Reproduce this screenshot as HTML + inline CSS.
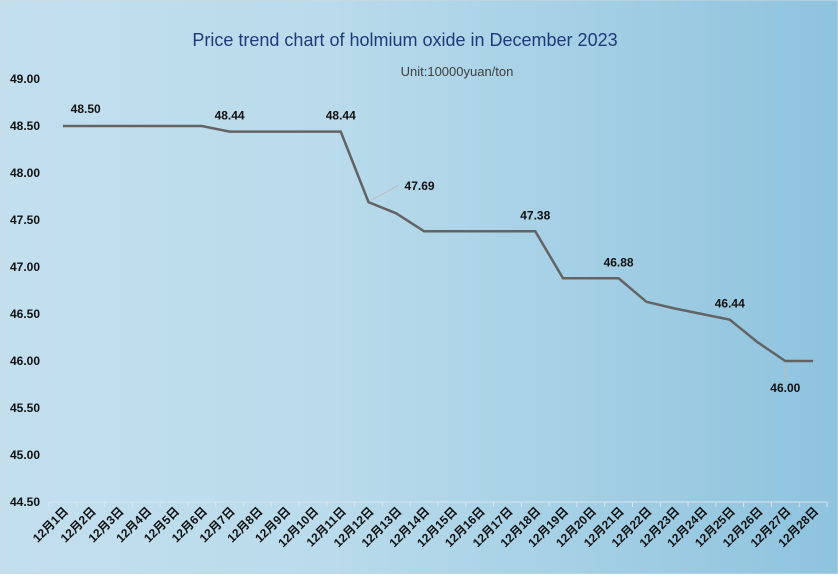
<!DOCTYPE html>
<html><head><meta charset="utf-8"><style>
html,body{margin:0;padding:0}
body{width:838px;height:574px;overflow:hidden;font-family:"Liberation Sans","Noto Sans CJK SC",sans-serif}
</style></head><body>
<svg id="chart" width="838" height="574" xmlns="http://www.w3.org/2000/svg">
<defs><linearGradient id="bg" x1="0" y1="0" x2="1" y2="0">
<stop offset="0" stop-color="#c3dfee"/><stop offset="0.4" stop-color="#b9dbeb"/><stop offset="1" stop-color="#8ec3de"/></linearGradient></defs>
<rect x="0" y="0" width="838" height="574" fill="url(#bg)" stroke="#d0d8e0"/>
<text x="405" y="46" text-anchor="middle" font-size="18" fill="#1f3a7a">Price trend chart of holmium oxide in December 2023</text>
<text x="457" y="76" text-anchor="middle" font-size="13" fill="#404040">Unit:10000yuan/ton</text>
<g id="axes"></g><g id="marks"></g>
</svg>
<script>
const categories=["12月1日","12月2日","12月3日","12月4日","12月5日","12月6日","12月7日","12月8日","12月9日","12月10日","12月11日","12月12日","12月13日","12月14日","12月15日","12月16日","12月17日","12月18日","12月19日","12月20日","12月21日","12月22日","12月23日","12月24日","12月25日","12月26日","12月27日","12月28日"];
const prices=[48.50,48.50,48.50,48.50,48.50,48.50,48.44,48.44,48.44,48.44,48.44,47.69,47.57,47.38,47.38,47.38,47.38,47.38,46.88,46.88,46.88,46.63,46.56,46.50,46.44,46.20,46.00,46.00];
const yTicks=[44.5,45,45.5,46,46.5,47,47.5,48,48.5,49];
const labeledIdx=[1,6,10,11,17,20,24,26];
const NS="http://www.w3.org/2000/svg";
const x0=49,x1=827,y0=502,y1=79,ymin=44.5,ymax=49;
const bw=(x1-x0)/categories.length;
const xs=i=>x0+bw*(i+0.5);
const ys=v=>y0-(v-ymin)/(ymax-ymin)*(y0-y1);
function mk(t,a,p){const e=document.createElementNS(NS,t);for(const k in a)e.setAttribute(k,a[k]);p.appendChild(e);return e;}
const ax=document.getElementById('axes'),mg=document.getElementById('marks');
yTicks.forEach(v=>{const t=mk('text',{x:40,y:ys(v)+4,'text-anchor':'end','font-size':12,'font-weight':'bold',fill:'#111'},ax);t.textContent=v.toFixed(2);

});
const al=mk('line',{x1:x0,y1:y0,x2:x1,y2:y0,stroke:'#d9e6ee','stroke-width':1},ax);


for(let i=0;i<=categories.length;i++){const tk=mk('line',{x1:x0+bw*i,y1:y0,x2:x0+bw*i,y2:y0+5,stroke:'#d9e6ee'},ax);

}
categories.forEach((c,i)=>{const x=xs(i)+6,y=y0+10;const t=mk('text',{x:x,y:y,'text-anchor':'end','font-size':12,'font-weight':'bold',fill:'#111',transform:`rotate(-45 ${x} ${y})`},ax);t.textContent=c;

});
const pl=mk('polyline',{points:prices.map((v,i)=>xs(i)+','+ys(v)).join(' '),fill:'none',stroke:'#636363','stroke-width':2.5},mg);


labeledIdx.forEach(i=>{const x=xs(i),y=ys(prices[i]);let lx=x,ly=y-12;
if(i===1){lx=x-5;ly=y-13;}
if(i===11){lx=x+51;ly=y-12;const c=mk('line',{x1:x+3,y1:y-2,x2:x+30,y2:y-17,stroke:'#bbb'},mg);}
if(i===26){ly=y+31;const c=mk('line',{x1:x,y1:y+3,x2:x,y2:y+19,stroke:'#bbb'},mg);}
const t=mk('text',{x:lx,y:ly,'text-anchor':'middle','font-size':12,'font-weight':'bold',fill:'#111'},mg);t.textContent=prices[i].toFixed(2);

});
</script>
</body></html>
